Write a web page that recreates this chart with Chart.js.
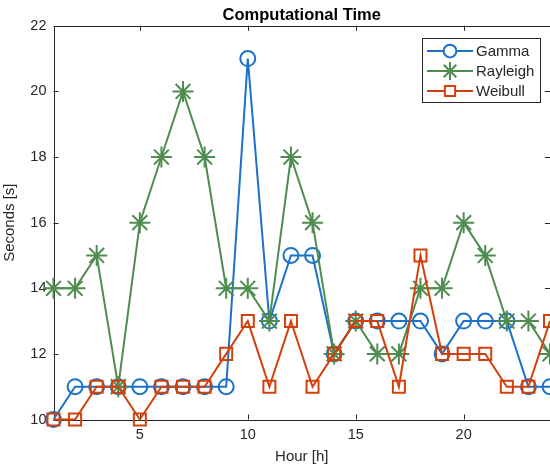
<!DOCTYPE html>
<html>
<head>
<meta charset="utf-8">
<script src="https://cdn.jsdelivr.net/npm/chart.js@4.4.0/dist/chart.umd.min.js"></script>
<style>
  html, body { margin: 0; padding: 0; background: #fff; }
  #wrap { width: 550px; height: 466px; }
</style>
</head>
<body>
<div id="wrap"><canvas id="myChart" width="550" height="466"></canvas></div>
<script>
// данные с картинки
var hours = [1, 2, 3, 4, 5, 6, 7, 8, 9, 10, 11, 12, 13, 14, 15, 16, 17, 18, 19, 20, 21, 22, 23, 24];
var gamma = [10, 11, 11, 11, 11, 11, 11, 11, 11, 21, 13, 15, 15, 12, 13, 13, 13, 13, 12, 13, 13, 13, 11, 11];
var rayleigh = [14, 14, 15, 11, 16, 18, 20, 18, 14, 14, 13, 18, 16, 12, 13, 12, 12, 14, 14, 16, 15, 13, 13, 12];
var weibull = [10, 10, 11, 11, 10, 11, 11, 11, 12, 13, 11, 13, 11, 12, 13, 13, 11, 15, 12, 12, 12, 11, 11, 13];
var seriesNames = ['Gamma', 'Rayleigh', 'Weibull'];
var xTicks = [5, 10, 15, 20];
var yTicks = [10, 12, 14, 16, 18, 20, 22];

var colors = ['#1a72c9', '#4f8c4f', '#d2400c'];
var styles = ['circle', 'star', 'rect'];
var radii = [7.5, 10.5, 8.5];
var axisColor = '#262626';
var fontFamily = '"Liberation Sans", Arial, Helvetica, sans-serif';

function makePoints(arr) {
    var pts = [];
    for (var i = 0; i < hours.length; i++) {
        pts.push({x: hours[i], y: arr[i]});
    }
    return pts;
}

var allData = [gamma, rayleigh, weibull];
var datasets = [];
for (var i = 0; i < allData.length; i++) {
    datasets.push({
        label: seriesNames[i],
        data: makePoints(allData[i]),
        borderColor: colors[i],
        backgroundColor: 'rgba(0,0,0,0)',
        borderWidth: 2,
        pointStyle: styles[i],
        pointRadius: radii[i],
        pointBorderWidth: 2,
        pointBorderColor: colors[i],
        pointBackgroundColor: 'rgba(0,0,0,0)',
        tension: 0,
        clip: false,
        order: 3 - i
    });
}

//рамка и тики внутрь как в матлабе
var boxPlugin = {
    id: 'boxPlugin',
    beforeDatasetsDraw: function(chart) {
        var ctx = chart.ctx;
        var a = chart.chartArea;
        var xs = chart.scales.x;
        var ys = chart.scales.y;
        var tl = 5;
        ctx.save();
        ctx.strokeStyle = axisColor;
        ctx.lineWidth = 1;
        ctx.beginPath();
        ctx.rect(Math.round(a.left) + 0.5, Math.round(a.top) + 0.5, Math.round(a.right - a.left), Math.round(a.bottom - a.top));
        for (var i = 0; i < xTicks.length; i++) {
            var px = Math.round(xs.getPixelForValue(xTicks[i])) + 0.5;
            ctx.moveTo(px, a.bottom);
            ctx.lineTo(px, a.bottom - tl);
            ctx.moveTo(px, a.top);
            ctx.lineTo(px, a.top + tl);
        }
        for (var j = 0; j < yTicks.length; j++) {
            var py = Math.round(ys.getPixelForValue(yTicks[j])) + 0.5;
            ctx.moveTo(a.left, py);
            ctx.lineTo(a.left + tl, py);
            ctx.moveTo(a.right, py);
            ctx.lineTo(a.right - tl, py);
        }
        ctx.stroke();
        ctx.restore();
    }
};

//легенда внутри графика
var legendPlugin = {
    id: 'legendPlugin',
    afterDatasetsDraw: function(chart) {
        var ctx = chart.ctx;
        var bx = 422, by = 38, bw = 118, bh = 64;
        ctx.save();
        ctx.fillStyle = '#fff';
        ctx.fillRect(bx, by, bw, bh);
        ctx.strokeStyle = axisColor;
        ctx.lineWidth = 1;
        ctx.strokeRect(bx + 0.5, by + 0.5, bw, bh);
        for (var i = 0; i < seriesNames.length; i++) {
            var ly = by + 13 + i * 20;
            ctx.strokeStyle = colors[i];
            ctx.lineWidth = 2;
            ctx.beginPath();
            ctx.moveTo(bx + 5, ly);
            ctx.lineTo(bx + 51, ly);
            ctx.stroke();
            ctx.fillStyle = '#fff';
            Chart.helpers.drawPoint(ctx, {
                pointStyle: styles[i],
                radius: radii[i] * 0.85,
                borderWidth: 2,
                rotation: 0
            }, bx + 28, ly);
            ctx.fillStyle = axisColor;
            ctx.font = '15px ' + fontFamily;
            ctx.textBaseline = 'middle';
            ctx.textAlign = 'left';
            ctx.fillText(seriesNames[i], bx + 54, ly + 1);
        }
        ctx.restore();
    }
};

var ctx = document.getElementById('myChart').getContext('2d');
var myLineChart = new Chart(ctx, {
    type: 'line',
    data: { datasets: datasets },
    options: {
        responsive: false,
        animation: false,
        layout: { autoPadding: false, padding: { left: 0, right: 0, top: 0, bottom: 0 } },
        plugins: {
            legend: { display: false },
            tooltip: { enabled: false },
            title: {
                display: true,
                fullSize: false,
                text: 'Computational Time',
                color: '#000',
                font: { family: fontFamily, size: 16.5, weight: 'bold', lineHeight: 1.2 },
                padding: { top: 6, bottom: 0 }
            }
        },
        scales: {
            x: {
                type: 'linear',
                min: 1,
                max: 24,
                afterBuildTicks: function(scale) {
                    scale.ticks = xTicks.map(function(v) { return {value: v}; });
                },
                afterFit: function(scale) {
                    scale.height = 46.5;
                    scale.paddingLeft = 0;
                    scale.paddingRight = 0;
                },
                grid: { display: false, drawTicks: false },
                border: { display: false },
                ticks: {
                    color: axisColor,
                    padding: 7,
                    maxRotation: 0,
                    font: { family: fontFamily, size: 14.5 }
                },
                title: {
                    display: true,
                    text: 'Hour [h]',
                    color: axisColor,
                    font: { family: fontFamily, size: 15, lineHeight: 1.2 },
                    padding: { top: 0, bottom: 0 }
                }
            },
            y: {
                type: 'linear',
                min: 10,
                max: 22,
                afterBuildTicks: function(scale) {
                    scale.ticks = yTicks.map(function(v) { return {value: v}; });
                },
                afterFit: function(scale) {
                    scale.width = 53.5;
                    scale.paddingTop = 0;
                    scale.paddingBottom = 0;
                },
                grid: { display: false, drawTicks: false },
                border: { display: false },
                ticks: {
                    color: axisColor,
                    padding: 7,
                    font: { family: fontFamily, size: 14.5 }
                },
                title: {
                    display: true,
                    text: 'Seconds [s]',
                    color: axisColor,
                    font: { family: fontFamily, size: 15, lineHeight: 1.2 },
                    padding: { top: 1, bottom: 0 }
                }
            }
        }
    },
    plugins: [boxPlugin, legendPlugin]
});
</script>
</body>
</html>
